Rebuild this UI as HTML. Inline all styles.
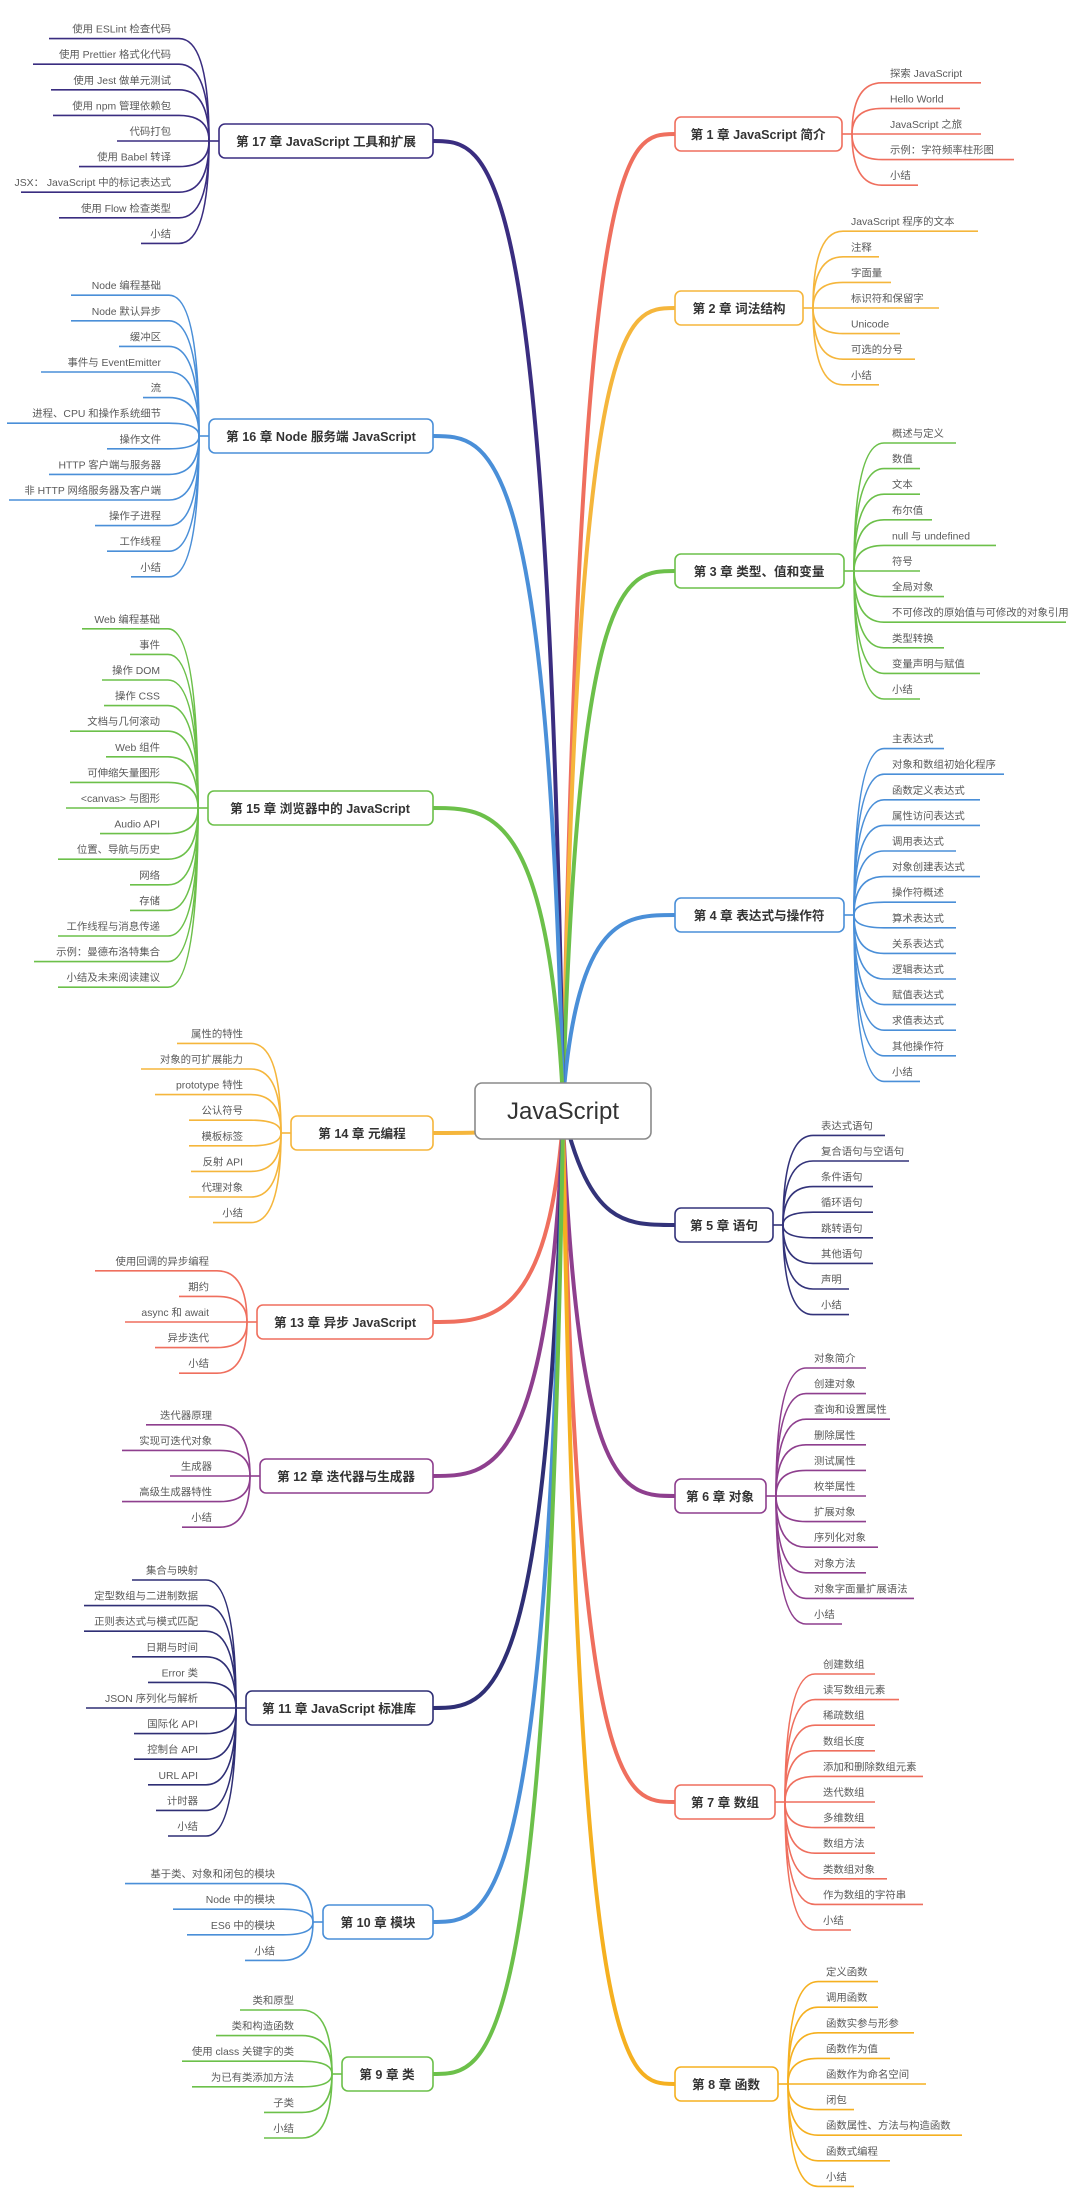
<!DOCTYPE html>
<html><head><meta charset="utf-8"><style>
html,body{margin:0;padding:0;background:#fff;}
svg{display:block;}
text{font-family:"Liberation Sans","Noto Sans CJK SC",sans-serif;}
.l{font-size:10.4px;fill:#5a5a5a;}
.c{font-size:12.6px;font-weight:bold;fill:#333;text-anchor:middle;}
.e{text-anchor:end;}
path{fill:none;stroke-width:1.6;}
.m{stroke-width:4;stroke-linecap:round;}
rect{fill:#fff;stroke-width:1.6;}
</style></head><body>
<svg width="1080" height="2201" viewBox="0 0 1080 2201" xmlns="http://www.w3.org/2000/svg">

<!-- main branches -->
<path class="m" stroke="#ef6f5e" d="M563 1100C580 134 625 134 675 134"/>
<path class="m" stroke="#f5b63c" d="M563 1100C578 308 625 308 675 308"/>
<path class="m" stroke="#6cc04a" d="M563 1100C578 571 625 571 675 571"/>
<path class="m" stroke="#4a8fd8" d="M563 1100C578 915 625 915 675 915"/>
<path class="m" stroke="#33337a" d="M563 1111C590 1225 625 1225 675 1225"/>
<path class="m" stroke="#8e3f8e" d="M563 1120C578 1496 625 1496 675 1496"/>
<path class="m" stroke="#ef6f5e" d="M563 1120C578 1802 625 1802 675 1802"/>
<path class="m" stroke="#f5b020" d="M563 1120C578 2084 625 2084 675 2084"/>
<path class="m" stroke="#3a2d80" d="M563 1100C548 141 490 141 433 141"/>
<path class="m" stroke="#4a8fd8" d="M563 1100C548 436 490 436 433 436"/>
<path class="m" stroke="#6cc04a" d="M563 1100C548 808 490 808 433 808"/>
<path class="m" stroke="#f5b63c" d="M563 1111C540 1133 490 1133 433 1133"/>
<path class="m" stroke="#ef6f5e" d="M563 1120C548 1322 490 1322 433 1322"/>
<path class="m" stroke="#8e3f8e" d="M563 1120C548 1476 490 1476 433 1476"/>
<path class="m" stroke="#2f2f75" d="M563 1120C548 1708 490 1708 433 1708"/>
<path class="m" stroke="#4a8fd8" d="M563 1120C548 1922 490 1922 433 1922"/>
<path class="m" stroke="#6cc04a" d="M563 1120C548 2074 490 2074 433 2074"/>

<!-- center -->
<rect x="475" y="1083" width="176" height="56" rx="7" stroke="#8a8a8a" stroke-width="2"/>
<text x="563" y="1119" style="font-size:24px;fill:#333;text-anchor:middle">JavaScript</text>

<!-- Ch1 -->
<rect x="675" y="117" width="167" height="34" rx="6" stroke="#ef6f5e"/>
<text class="c" x="758" y="139">第 1 章 JavaScript 简介</text>
<g transform="translate(852,134)" stroke="#ef6f5e">
<path d="M-10 0H0"/>
<path d="M0 0Q0 -51.2 30 -51.2H129"/><text class="l" x="38" y="-57.2" stroke="none">探索 JavaScript</text>
<path d="M0 0Q0 -25.6 30 -25.6H108"/><text class="l" x="38" y="-31.6" stroke="none">Hello World</text>
<path d="M0 0H129"/><text class="l" x="38" y="-6" stroke="none">JavaScript 之旅</text>
<path d="M0 0Q0 25.6 30 25.6H162"/><text class="l" x="38" y="19.6" stroke="none">示例：字符频率柱形图</text>
<path d="M0 0Q0 51.2 30 51.2H66"/><text class="l" x="38" y="45.2" stroke="none">小结</text>
</g>

<!-- Ch2 -->
<rect x="675" y="291" width="128" height="34" rx="6" stroke="#f5b63c"/>
<text class="c" x="739" y="313">第 2 章 词法结构</text>
<g transform="translate(813,308)" stroke="#f5b63c">
<path d="M-10 0H0"/>
<path d="M0 0Q0 -76.8 30 -76.8H165"/><text class="l" x="38" y="-82.8" stroke="none">JavaScript 程序的文本</text>
<path d="M0 0Q0 -51.2 30 -51.2H66"/><text class="l" x="38" y="-57.2" stroke="none">注释</text>
<path d="M0 0Q0 -25.6 30 -25.6H78"/><text class="l" x="38" y="-31.6" stroke="none">字面量</text>
<path d="M0 0H126"/><text class="l" x="38" y="-6" stroke="none">标识符和保留字</text>
<path d="M0 0Q0 25.6 30 25.6H87"/><text class="l" x="38" y="19.6" stroke="none">Unicode</text>
<path d="M0 0Q0 51.2 30 51.2H102"/><text class="l" x="38" y="45.2" stroke="none">可选的分号</text>
<path d="M0 0Q0 76.8 30 76.8H66"/><text class="l" x="38" y="70.8" stroke="none">小结</text>
</g>

<!-- Ch3 -->
<rect x="675" y="554" width="169" height="34" rx="6" stroke="#6cc04a"/>
<text class="c" x="759" y="576">第 3 章 类型、值和变量</text>
<g transform="translate(854,571)" stroke="#6cc04a">
<path d="M-10 0H0"/>
<path d="M0 0Q0 -128 30 -128H102"/><text class="l" x="38" y="-134" stroke="none">概述与定义</text>
<path d="M0 0Q0 -102.4 30 -102.4H66"/><text class="l" x="38" y="-108.4" stroke="none">数值</text>
<path d="M0 0Q0 -76.8 30 -76.8H66"/><text class="l" x="38" y="-82.8" stroke="none">文本</text>
<path d="M0 0Q0 -51.2 30 -51.2H78"/><text class="l" x="38" y="-57.2" stroke="none">布尔值</text>
<path d="M0 0Q0 -25.6 30 -25.6H142"/><text class="l" x="38" y="-31.6" stroke="none">null 与 undefined</text>
<path d="M0 0H66"/><text class="l" x="38" y="-6" stroke="none">符号</text>
<path d="M0 0Q0 25.6 30 25.6H90"/><text class="l" x="38" y="19.6" stroke="none">全局对象</text>
<path d="M0 0Q0 51.2 30 51.2H212"/><text class="l" x="38" y="45.2" stroke="none">不可修改的原始值与可修改的对象引用</text>
<path d="M0 0Q0 76.8 30 76.8H90"/><text class="l" x="38" y="70.8" stroke="none">类型转换</text>
<path d="M0 0Q0 102.4 30 102.4H126"/><text class="l" x="38" y="96.4" stroke="none">变量声明与赋值</text>
<path d="M0 0Q0 128 30 128H66"/><text class="l" x="38" y="122" stroke="none">小结</text>
</g>

<!-- Ch4 -->
<rect x="675" y="898" width="169" height="34" rx="6" stroke="#4a8fd8"/>
<text class="c" x="759" y="920">第 4 章 表达式与操作符</text>
<g transform="translate(854,915)" stroke="#4a8fd8">
<path d="M-10 0H0"/>
<path d="M0 0Q0 -166.4 30 -166.4H90"/><text class="l" x="38" y="-172.4" stroke="none">主表达式</text>
<path d="M0 0Q0 -140.8 30 -140.8H150"/><text class="l" x="38" y="-146.8" stroke="none">对象和数组初始化程序</text>
<path d="M0 0Q0 -115.2 30 -115.2H126"/><text class="l" x="38" y="-121.2" stroke="none">函数定义表达式</text>
<path d="M0 0Q0 -89.6 30 -89.6H126"/><text class="l" x="38" y="-95.6" stroke="none">属性访问表达式</text>
<path d="M0 0Q0 -64 30 -64H102"/><text class="l" x="38" y="-70" stroke="none">调用表达式</text>
<path d="M0 0Q0 -38.4 30 -38.4H126"/><text class="l" x="38" y="-44.4" stroke="none">对象创建表达式</text>
<path d="M0 0Q0 -12.8 30 -12.8H102"/><text class="l" x="38" y="-18.8" stroke="none">操作符概述</text>
<path d="M0 0Q0 12.8 30 12.8H102"/><text class="l" x="38" y="6.8" stroke="none">算术表达式</text>
<path d="M0 0Q0 38.4 30 38.4H102"/><text class="l" x="38" y="32.4" stroke="none">关系表达式</text>
<path d="M0 0Q0 64 30 64H102"/><text class="l" x="38" y="58" stroke="none">逻辑表达式</text>
<path d="M0 0Q0 89.6 30 89.6H102"/><text class="l" x="38" y="83.6" stroke="none">赋值表达式</text>
<path d="M0 0Q0 115.2 30 115.2H102"/><text class="l" x="38" y="109.2" stroke="none">求值表达式</text>
<path d="M0 0Q0 140.8 30 140.8H102"/><text class="l" x="38" y="134.8" stroke="none">其他操作符</text>
<path d="M0 0Q0 166.4 30 166.4H66"/><text class="l" x="38" y="160.4" stroke="none">小结</text>
</g>

<!-- Ch5 -->
<rect x="675" y="1208" width="98" height="34" rx="6" stroke="#33337a"/>
<text class="c" x="724" y="1230">第 5 章 语句</text>
<g transform="translate(783,1225)" stroke="#33337a">
<path d="M-10 0H0"/>
<path d="M0 0Q0 -89.6 30 -89.6H102"/><text class="l" x="38" y="-95.6" stroke="none">表达式语句</text>
<path d="M0 0Q0 -64 30 -64H126"/><text class="l" x="38" y="-70" stroke="none">复合语句与空语句</text>
<path d="M0 0Q0 -38.4 30 -38.4H90"/><text class="l" x="38" y="-44.4" stroke="none">条件语句</text>
<path d="M0 0Q0 -12.8 30 -12.8H90"/><text class="l" x="38" y="-18.8" stroke="none">循环语句</text>
<path d="M0 0Q0 12.8 30 12.8H90"/><text class="l" x="38" y="6.8" stroke="none">跳转语句</text>
<path d="M0 0Q0 38.4 30 38.4H90"/><text class="l" x="38" y="32.4" stroke="none">其他语句</text>
<path d="M0 0Q0 64 30 64H66"/><text class="l" x="38" y="58" stroke="none">声明</text>
<path d="M0 0Q0 89.6 30 89.6H66"/><text class="l" x="38" y="83.6" stroke="none">小结</text>
</g>

<!-- Ch6 -->
<rect x="675" y="1479" width="91" height="34" rx="6" stroke="#8e3f8e"/>
<text class="c" x="720" y="1501">第 6 章 对象</text>
<g transform="translate(776,1496)" stroke="#8e3f8e">
<path d="M-10 0H0"/>
<path d="M0 0Q0 -128 30 -128H90"/><text class="l" x="38" y="-134" stroke="none">对象简介</text>
<path d="M0 0Q0 -102.4 30 -102.4H90"/><text class="l" x="38" y="-108.4" stroke="none">创建对象</text>
<path d="M0 0Q0 -76.8 30 -76.8H114"/><text class="l" x="38" y="-82.8" stroke="none">查询和设置属性</text>
<path d="M0 0Q0 -51.2 30 -51.2H90"/><text class="l" x="38" y="-57.2" stroke="none">删除属性</text>
<path d="M0 0Q0 -25.6 30 -25.6H90"/><text class="l" x="38" y="-31.6" stroke="none">测试属性</text>
<path d="M0 0H90"/><text class="l" x="38" y="-6" stroke="none">枚举属性</text>
<path d="M0 0Q0 25.6 30 25.6H90"/><text class="l" x="38" y="19.6" stroke="none">扩展对象</text>
<path d="M0 0Q0 51.2 30 51.2H102"/><text class="l" x="38" y="45.2" stroke="none">序列化对象</text>
<path d="M0 0Q0 76.8 30 76.8H90"/><text class="l" x="38" y="70.8" stroke="none">对象方法</text>
<path d="M0 0Q0 102.4 30 102.4H138"/><text class="l" x="38" y="96.4" stroke="none">对象字面量扩展语法</text>
<path d="M0 0Q0 128 30 128H66"/><text class="l" x="38" y="122" stroke="none">小结</text>
</g>

<!-- Ch7 -->
<rect x="675" y="1785" width="100" height="34" rx="6" stroke="#ef6f5e"/>
<text class="c" x="725" y="1807">第 7 章 数组</text>
<g transform="translate(785,1802)" stroke="#ef6f5e">
<path d="M-10 0H0"/>
<path d="M0 0Q0 -128 30 -128H90"/><text class="l" x="38" y="-134" stroke="none">创建数组</text>
<path d="M0 0Q0 -102.4 30 -102.4H114"/><text class="l" x="38" y="-108.4" stroke="none">读写数组元素</text>
<path d="M0 0Q0 -76.8 30 -76.8H90"/><text class="l" x="38" y="-82.8" stroke="none">稀疏数组</text>
<path d="M0 0Q0 -51.2 30 -51.2H90"/><text class="l" x="38" y="-57.2" stroke="none">数组长度</text>
<path d="M0 0Q0 -25.6 30 -25.6H138"/><text class="l" x="38" y="-31.6" stroke="none">添加和删除数组元素</text>
<path d="M0 0H90"/><text class="l" x="38" y="-6" stroke="none">迭代数组</text>
<path d="M0 0Q0 25.6 30 25.6H90"/><text class="l" x="38" y="19.6" stroke="none">多维数组</text>
<path d="M0 0Q0 51.2 30 51.2H90"/><text class="l" x="38" y="45.2" stroke="none">数组方法</text>
<path d="M0 0Q0 76.8 30 76.8H102"/><text class="l" x="38" y="70.8" stroke="none">类数组对象</text>
<path d="M0 0Q0 102.4 30 102.4H138"/><text class="l" x="38" y="96.4" stroke="none">作为数组的字符串</text>
<path d="M0 0Q0 128 30 128H66"/><text class="l" x="38" y="122" stroke="none">小结</text>
</g>

<!-- Ch8 -->
<rect x="675" y="2067" width="103" height="34" rx="6" stroke="#f5b020"/>
<text class="c" x="726" y="2089">第 8 章 函数</text>
<g transform="translate(788,2084)" stroke="#f5b020">
<path d="M-10 0H0"/>
<path d="M0 0Q0 -102.4 30 -102.4H90"/><text class="l" x="38" y="-108.4" stroke="none">定义函数</text>
<path d="M0 0Q0 -76.8 30 -76.8H90"/><text class="l" x="38" y="-82.8" stroke="none">调用函数</text>
<path d="M0 0Q0 -51.2 30 -51.2H126"/><text class="l" x="38" y="-57.2" stroke="none">函数实参与形参</text>
<path d="M0 0Q0 -25.6 30 -25.6H102"/><text class="l" x="38" y="-31.6" stroke="none">函数作为值</text>
<path d="M0 0H138"/><text class="l" x="38" y="-6" stroke="none">函数作为命名空间</text>
<path d="M0 0Q0 25.6 30 25.6H66"/><text class="l" x="38" y="19.6" stroke="none">闭包</text>
<path d="M0 0Q0 51.2 30 51.2H174"/><text class="l" x="38" y="45.2" stroke="none">函数属性、方法与构造函数</text>
<path d="M0 0Q0 76.8 30 76.8H102"/><text class="l" x="38" y="70.8" stroke="none">函数式编程</text>
<path d="M0 0Q0 102.4 30 102.4H66"/><text class="l" x="38" y="96.4" stroke="none">小结</text>
</g>

<!-- Ch17 -->
<rect x="219" y="124" width="214" height="34" rx="6" stroke="#3a2d80"/>
<text class="c" x="326" y="146">第 17 章 JavaScript 工具和扩展</text>
<g transform="translate(209,141)" stroke="#3a2d80">
<path d="M10 0H0"/>
<path d="M0 0Q0 -102.4 -30 -102.4H-160"/><text class="l e" x="-38" y="-108.4" stroke="none">使用 ESLint 检查代码</text>
<path d="M0 0Q0 -76.8 -30 -76.8H-176"/><text class="l e" x="-38" y="-82.8" stroke="none">使用 Prettier 格式化代码</text>
<path d="M0 0Q0 -51.2 -30 -51.2H-158"/><text class="l e" x="-38" y="-57.2" stroke="none">使用 Jest 做单元测试</text>
<path d="M0 0Q0 -25.6 -30 -25.6H-156"/><text class="l e" x="-38" y="-31.6" stroke="none">使用 npm 管理依赖包</text>
<path d="M0 0H-92"/><text class="l e" x="-38" y="-6" stroke="none">代码打包</text>
<path d="M0 0Q0 25.6 -30 25.6H-130"/><text class="l e" x="-38" y="19.6" stroke="none">使用 Babel 转译</text>
<path d="M0 0Q0 51.2 -30 51.2H-188"/><text class="l e" x="-38" y="45.2" stroke="none">JSX： JavaScript 中的标记表达式</text>
<path d="M0 0Q0 76.8 -30 76.8H-150"/><text class="l e" x="-38" y="70.8" stroke="none">使用 Flow 检查类型</text>
<path d="M0 0Q0 102.4 -30 102.4H-68"/><text class="l e" x="-38" y="96.4" stroke="none">小结</text>
</g>

<!-- Ch16 -->
<rect x="209" y="419" width="224" height="34" rx="6" stroke="#4a8fd8"/>
<text class="c" x="321" y="441">第 16 章 Node 服务端 JavaScript</text>
<g transform="translate(199,436)" stroke="#4a8fd8">
<path d="M10 0H0"/>
<path d="M0 0Q0 -140.8 -30 -140.8H-128"/><text class="l e" x="-38" y="-146.8" stroke="none">Node 编程基础</text>
<path d="M0 0Q0 -115.2 -30 -115.2H-128"/><text class="l e" x="-38" y="-121.2" stroke="none">Node 默认异步</text>
<path d="M0 0Q0 -89.6 -30 -89.6H-80"/><text class="l e" x="-38" y="-95.6" stroke="none">缓冲区</text>
<path d="M0 0Q0 -64 -30 -64H-158"/><text class="l e" x="-38" y="-70" stroke="none">事件与 EventEmitter</text>
<path d="M0 0Q0 -38.4 -30 -38.4H-56"/><text class="l e" x="-38" y="-44.4" stroke="none">流</text>
<path d="M0 0Q0 -12.8 -30 -12.8H-192"/><text class="l e" x="-38" y="-18.8" stroke="none">进程、CPU 和操作系统细节</text>
<path d="M0 0Q0 12.8 -30 12.8H-92"/><text class="l e" x="-38" y="6.8" stroke="none">操作文件</text>
<path d="M0 0Q0 38.4 -30 38.4H-150"/><text class="l e" x="-38" y="32.4" stroke="none">HTTP 客户端与服务器</text>
<path d="M0 0Q0 64 -30 64H-190"/><text class="l e" x="-38" y="58" stroke="none">非 HTTP 网络服务器及客户端</text>
<path d="M0 0Q0 89.6 -30 89.6H-104"/><text class="l e" x="-38" y="83.6" stroke="none">操作子进程</text>
<path d="M0 0Q0 115.2 -30 115.2H-92"/><text class="l e" x="-38" y="109.2" stroke="none">工作线程</text>
<path d="M0 0Q0 140.8 -30 140.8H-68"/><text class="l e" x="-38" y="134.8" stroke="none">小结</text>
</g>

<!-- Ch15 -->
<rect x="208" y="791" width="225" height="34" rx="6" stroke="#6cc04a"/>
<text class="c" x="320" y="813">第 15 章 浏览器中的 JavaScript</text>
<g transform="translate(198,808)" stroke="#6cc04a">
<path d="M10 0H0"/>
<path d="M0 0Q0 -179.2 -30 -179.2H-116"/><text class="l e" x="-38" y="-185.2" stroke="none">Web 编程基础</text>
<path d="M0 0Q0 -153.6 -30 -153.6H-68"/><text class="l e" x="-38" y="-159.6" stroke="none">事件</text>
<path d="M0 0Q0 -128 -30 -128H-96"/><text class="l e" x="-38" y="-134" stroke="none">操作 DOM</text>
<path d="M0 0Q0 -102.4 -30 -102.4H-94"/><text class="l e" x="-38" y="-108.4" stroke="none">操作 CSS</text>
<path d="M0 0Q0 -76.8 -30 -76.8H-128"/><text class="l e" x="-38" y="-82.8" stroke="none">文档与几何滚动</text>
<path d="M0 0Q0 -51.2 -30 -51.2H-92"/><text class="l e" x="-38" y="-57.2" stroke="none">Web 组件</text>
<path d="M0 0Q0 -25.6 -30 -25.6H-128"/><text class="l e" x="-38" y="-31.6" stroke="none">可伸缩矢量图形</text>
<path d="M0 0H-132"/><text class="l e" x="-38" y="-6" stroke="none">&lt;canvas&gt; 与图形</text>
<path d="M0 0Q0 25.6 -30 25.6H-98"/><text class="l e" x="-38" y="19.6" stroke="none">Audio API</text>
<path d="M0 0Q0 51.2 -30 51.2H-140"/><text class="l e" x="-38" y="45.2" stroke="none">位置、导航与历史</text>
<path d="M0 0Q0 76.8 -30 76.8H-68"/><text class="l e" x="-38" y="70.8" stroke="none">网络</text>
<path d="M0 0Q0 102.4 -30 102.4H-68"/><text class="l e" x="-38" y="96.4" stroke="none">存储</text>
<path d="M0 0Q0 128 -30 128H-140"/><text class="l e" x="-38" y="122" stroke="none">工作线程与消息传递</text>
<path d="M0 0Q0 153.6 -30 153.6H-164"/><text class="l e" x="-38" y="147.6" stroke="none">示例：曼德布洛特集合</text>
<path d="M0 0Q0 179.2 -30 179.2H-140"/><text class="l e" x="-38" y="173.2" stroke="none">小结及未来阅读建议</text>
</g>

<!-- Ch14 -->
<rect x="291" y="1116" width="142" height="34" rx="6" stroke="#f5b63c"/>
<text class="c" x="362" y="1138">第 14 章 元编程</text>
<g transform="translate(281,1133)" stroke="#f5b63c">
<path d="M10 0H0"/>
<path d="M0 0Q0 -89.6 -30 -89.6H-104"/><text class="l e" x="-38" y="-95.6" stroke="none">属性的特性</text>
<path d="M0 0Q0 -64 -30 -64H-140"/><text class="l e" x="-38" y="-70" stroke="none">对象的可扩展能力</text>
<path d="M0 0Q0 -38.4 -30 -38.4H-126"/><text class="l e" x="-38" y="-44.4" stroke="none">prototype 特性</text>
<path d="M0 0Q0 -12.8 -30 -12.8H-92"/><text class="l e" x="-38" y="-18.8" stroke="none">公认符号</text>
<path d="M0 0Q0 12.8 -30 12.8H-92"/><text class="l e" x="-38" y="6.8" stroke="none">模板标签</text>
<path d="M0 0Q0 38.4 -30 38.4H-90"/><text class="l e" x="-38" y="32.4" stroke="none">反射 API</text>
<path d="M0 0Q0 64 -30 64H-92"/><text class="l e" x="-38" y="58" stroke="none">代理对象</text>
<path d="M0 0Q0 89.6 -30 89.6H-68"/><text class="l e" x="-38" y="83.6" stroke="none">小结</text>
</g>

<!-- Ch13 -->
<rect x="257" y="1305" width="176" height="34" rx="6" stroke="#ef6f5e"/>
<text class="c" x="345" y="1327">第 13 章 异步 JavaScript</text>
<g transform="translate(247,1322)" stroke="#ef6f5e">
<path d="M10 0H0"/>
<path d="M0 0Q0 -51.2 -30 -51.2H-152"/><text class="l e" x="-38" y="-57.2" stroke="none">使用回调的异步编程</text>
<path d="M0 0Q0 -25.6 -30 -25.6H-68"/><text class="l e" x="-38" y="-31.6" stroke="none">期约</text>
<path d="M0 0H-122"/><text class="l e" x="-38" y="-6" stroke="none">async 和 await</text>
<path d="M0 0Q0 25.6 -30 25.6H-92"/><text class="l e" x="-38" y="19.6" stroke="none">异步迭代</text>
<path d="M0 0Q0 51.2 -30 51.2H-68"/><text class="l e" x="-38" y="45.2" stroke="none">小结</text>
</g>

<!-- Ch12 -->
<rect x="260" y="1459" width="173" height="34" rx="6" stroke="#8e3f8e"/>
<text class="c" x="346" y="1481">第 12 章 迭代器与生成器</text>
<g transform="translate(250,1476)" stroke="#8e3f8e">
<path d="M10 0H0"/>
<path d="M0 0Q0 -51.2 -30 -51.2H-104"/><text class="l e" x="-38" y="-57.2" stroke="none">迭代器原理</text>
<path d="M0 0Q0 -25.6 -30 -25.6H-128"/><text class="l e" x="-38" y="-31.6" stroke="none">实现可迭代对象</text>
<path d="M0 0H-80"/><text class="l e" x="-38" y="-6" stroke="none">生成器</text>
<path d="M0 0Q0 25.6 -30 25.6H-128"/><text class="l e" x="-38" y="19.6" stroke="none">高级生成器特性</text>
<path d="M0 0Q0 51.2 -30 51.2H-68"/><text class="l e" x="-38" y="45.2" stroke="none">小结</text>
</g>

<!-- Ch11 -->
<rect x="246" y="1691" width="187" height="34" rx="6" stroke="#2f2f75"/>
<text class="c" x="339" y="1713">第 11 章 JavaScript 标准库</text>
<g transform="translate(236,1708)" stroke="#2f2f75">
<path d="M10 0H0"/>
<path d="M0 0Q0 -128 -30 -128H-104"/><text class="l e" x="-38" y="-134" stroke="none">集合与映射</text>
<path d="M0 0Q0 -102.4 -30 -102.4H-152"/><text class="l e" x="-38" y="-108.4" stroke="none">定型数组与二进制数据</text>
<path d="M0 0Q0 -76.8 -30 -76.8H-152"/><text class="l e" x="-38" y="-82.8" stroke="none">正则表达式与模式匹配</text>
<path d="M0 0Q0 -51.2 -30 -51.2H-104"/><text class="l e" x="-38" y="-57.2" stroke="none">日期与时间</text>
<path d="M0 0Q0 -25.6 -30 -25.6H-88"/><text class="l e" x="-38" y="-31.6" stroke="none">Error 类</text>
<path d="M0 0H-150"/><text class="l e" x="-38" y="-6" stroke="none">JSON 序列化与解析</text>
<path d="M0 0Q0 25.6 -30 25.6H-102"/><text class="l e" x="-38" y="19.6" stroke="none">国际化 API</text>
<path d="M0 0Q0 51.2 -30 51.2H-102"/><text class="l e" x="-38" y="45.2" stroke="none">控制台 API</text>
<path d="M0 0Q0 76.8 -30 76.8H-88"/><text class="l e" x="-38" y="70.8" stroke="none">URL API</text>
<path d="M0 0Q0 102.4 -30 102.4H-80"/><text class="l e" x="-38" y="96.4" stroke="none">计时器</text>
<path d="M0 0Q0 128 -30 128H-68"/><text class="l e" x="-38" y="122" stroke="none">小结</text>
</g>

<!-- Ch10 -->
<rect x="323" y="1905" width="110" height="34" rx="6" stroke="#4a8fd8"/>
<text class="c" x="378" y="1927">第 10 章 模块</text>
<g transform="translate(313,1922)" stroke="#4a8fd8">
<path d="M10 0H0"/>
<path d="M0 0Q0 -38.4 -30 -38.4H-188"/><text class="l e" x="-38" y="-44.4" stroke="none">基于类、对象和闭包的模块</text>
<path d="M0 0Q0 -12.8 -30 -12.8H-140"/><text class="l e" x="-38" y="-18.8" stroke="none">Node 中的模块</text>
<path d="M0 0Q0 12.8 -30 12.8H-126"/><text class="l e" x="-38" y="6.8" stroke="none">ES6 中的模块</text>
<path d="M0 0Q0 38.4 -30 38.4H-68"/><text class="l e" x="-38" y="32.4" stroke="none">小结</text>
</g>

<!-- Ch9 -->
<rect x="342" y="2057" width="91" height="34" rx="6" stroke="#6cc04a"/>
<text class="c" x="387" y="2079">第 9 章 类</text>
<g transform="translate(332,2074)" stroke="#6cc04a">
<path d="M10 0H0"/>
<path d="M0 0Q0 -64 -30 -64H-92"/><text class="l e" x="-38" y="-70" stroke="none">类和原型</text>
<path d="M0 0Q0 -38.4 -30 -38.4H-116"/><text class="l e" x="-38" y="-44.4" stroke="none">类和构造函数</text>
<path d="M0 0Q0 -12.8 -30 -12.8H-150"/><text class="l e" x="-38" y="-18.8" stroke="none">使用 class 关键字的类</text>
<path d="M0 0Q0 12.8 -30 12.8H-140"/><text class="l e" x="-38" y="6.8" stroke="none">为已有类添加方法</text>
<path d="M0 0Q0 38.4 -30 38.4H-68"/><text class="l e" x="-38" y="32.4" stroke="none">子类</text>
<path d="M0 0Q0 64 -30 64H-68"/><text class="l e" x="-38" y="58" stroke="none">小结</text>
</g>

</svg>
</body></html>
